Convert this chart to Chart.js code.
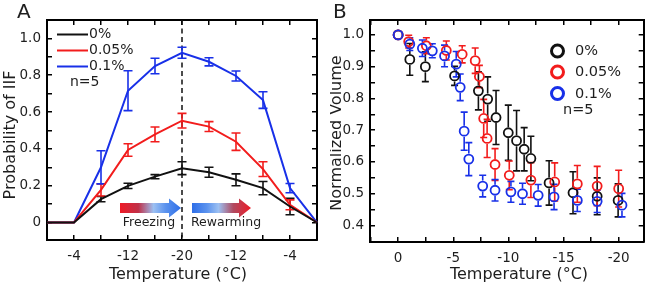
<!DOCTYPE html>
<html>
<head>
<meta charset="utf-8">
<script src="https://cdn.jsdelivr.net/npm/chart.js@4.4.1/dist/chart.umd.min.js"></script>
<style>
  html, body { margin: 0; padding: 0; background: #fff; }
  #wrap { position: relative; width: 650px; height: 285px; overflow: hidden; }
  canvas { position: absolute; top: 0; }
  #chartA { left: 0; }
  #chartB { left: 330px; }
</style>
</head>
<body>
<div id="wrap">
  <canvas id="chartA" width="330" height="285"></canvas>
  <canvas id="chartB" width="320" height="285"></canvas>
</div>
<script>
// ---- Panel A: probability of IIF along the freeze / rewarm cycle ----
const stagesA = ['0', '-4', '-8', '-12', '-16', '-20', '-16', '-12', '-8', '-4', '0'];
const labeledStagesA = [1, 3, 5, 7, 9];
const iif0 = [0, 0, 0.127, 0.199, 0.249, 0.295, 0.273, 0.232, 0.187, 0.087, 0];
const iif0Err = [0, 0, 0.014, 0.014, 0.011, 0.035, 0.027, 0.032, 0.036, 0.045, 0];
const iif005 = [0, 0, 0.177, 0.394, 0.479, 0.553, 0.521, 0.439, 0.29, 0.096, 0];
const iif005Err = [0, 0, 0.033, 0.034, 0.04, 0.04, 0.027, 0.047, 0.04, 0.027, 0];
const iif01 = [0, 0, 0.30, 0.716, 0.85, 0.922, 0.873, 0.796, 0.665, 0.187, 0];
const iif01Err = [0, 0, 0.09, 0.108, 0.042, 0.03, 0.022, 0.027, 0.045, 0.025, 0];
const yTicksA = [0, 0.1, 0.2, 0.3, 0.4, 0.5, 0.6, 0.7, 0.8, 0.9, 1.0];
const yTickLabelsA = ['0', '', '0.2', '', '0.4', '', '0.6', '', '0.8', '', '1.0'];

// ---- Panel B: normalized volume vs temperature ----
const volTemp0 = [0, -1.06, -2.47, -5.12, -7.28, -8.12, -8.88, -9.99, -10.74, -11.43, -12.04, -13.69, -15.86, -18.05, -19.95];
const vol0 = [1.0, 0.923, 0.90, 0.871, 0.824, 0.798, 0.74, 0.692, 0.667, 0.64, 0.611, 0.534, 0.503, 0.492, 0.479];
const vol0Err = [0, 0.05, 0.047, 0.03, 0.06, 0.07, 0.085, 0.087, 0.095, 0.068, 0.07, 0.07, 0.066, 0.058, 0.052];
const volTemp005 = [0, -0.96, -2.56, -4.37, -5.81, -6.99, -7.37, -7.76, -8.07, -8.79, -10.08, -12.04, -14.2, -16.25, -18.05, -20.0];
const vol005 = [1.0, 0.979, 0.966, 0.951, 0.939, 0.919, 0.869, 0.737, 0.674, 0.592, 0.558, 0.543, 0.537, 0.531, 0.524, 0.516];
const vol005Err = [0, 0.02, 0.025, 0.03, 0.027, 0.04, 0.035, 0.06, 0.06, 0.05, 0.045, 0.055, 0.06, 0.058, 0.062, 0.058];
const volTemp01 = [0, -1.06, -2.2, -3.1, -4.21, -5.27, -5.63, -5.99, -6.41, -7.67, -8.79, -10.23, -11.28, -12.7, -14.14, -16.25, -18.05, -20.3];
const vol01 = [1.0, 0.971, 0.958, 0.95, 0.934, 0.908, 0.835, 0.697, 0.609, 0.524, 0.511, 0.506, 0.50, 0.495, 0.49, 0.479, 0.476, 0.464];
const vol01Err = [0, 0.02, 0.026, 0.022, 0.034, 0.04, 0.042, 0.06, 0.052, 0.034, 0.034, 0.033, 0.033, 0.034, 0.04, 0.035, 0.035, 0.037];
const xTicksB = [2.5, 0, -2.5, -5, -7.5, -10, -12.5, -15, -17.5, -20];
const xTickLabelsB = ['', '0', '', '-5', '', '-10', '', '-15', '', '-20'];
const yTicksB = [0.4, 0.45, 0.5, 0.55, 0.6, 0.65, 0.7, 0.75, 0.8, 0.85, 0.9, 0.95, 1.0];
const yTickLabelsB = ['0.4', '', '0.5', '', '0.6', '', '0.7', '', '0.8', '', '0.9', '', '1.0'];

const seriesNames = ['0%', '0.05%', '0.1%'];
const BLACK = '#111111';
const RED = '#f21c1c';
const BLUE = '#1830e8';
const seriesColors = [BLACK, RED, BLUE];
const FONT = "'DejaVu Sans', Verdana, sans-serif";
const TEXT = '#1e1e1e';

// Axis frame: border on every side, short inward tick marks
const frameGrid = () => ({
    display: true,
    drawOnChartArea: false,
    drawTicks: true,
    tickLength: -5,
    color: '#000000',
    lineWidth: 1.5
});
const frameBorder = () => ({ display: true, color: '#000000', width: 2 });

// Vertical error bars, with an optional gap round each marker
function drawErrorBars(chart, errorSets, capHalf, gap) {
    const { ctx } = chart;
    const yScale = chart.scales.y;
    ctx.save();
    ctx.lineWidth = 1.6;
    errorSets.forEach((errs, di) => {
        const meta = chart.getDatasetMeta(di);
        const ds = chart.data.datasets[di];
        ctx.strokeStyle = ds.borderColor;
        meta.data.forEach((pt, i) => {
            const e = errs[i];
            if (!e) return;
            const raw = ds.data[i];
            const v = typeof raw === 'object' ? raw.y : raw;
            const top = yScale.getPixelForValue(v + e);
            const bot = yScale.getPixelForValue(v - e);
            ctx.beginPath();
            if (top < pt.y - gap) {
                ctx.moveTo(pt.x, top);
                ctx.lineTo(pt.x, pt.y - gap);
            }
            if (bot > pt.y + gap) {
                ctx.moveTo(pt.x, pt.y + gap);
                ctx.lineTo(pt.x, bot);
            }
            ctx.moveTo(pt.x - capHalf, top);
            ctx.lineTo(pt.x + capHalf, top);
            ctx.moveTo(pt.x - capHalf, bot);
            ctx.lineTo(pt.x + capHalf, bot);
            ctx.stroke();
        });
    });
    ctx.restore();
}

function drawArrow(ctx, x0, x1, yc, stops) {
    const bodyH = 5, headH = 9.5, headL = 12;
    const g = ctx.createLinearGradient(x0, 0, x1, 0);
    stops.forEach(([s, c]) => g.addColorStop(s, c));
    ctx.fillStyle = g;
    ctx.beginPath();
    ctx.moveTo(x0, yc - bodyH);
    ctx.lineTo(x1 - headL, yc - bodyH);
    ctx.lineTo(x1 - headL, yc - headH);
    ctx.lineTo(x1, yc);
    ctx.lineTo(x1 - headL, yc + headH);
    ctx.lineTo(x1 - headL, yc + bodyH);
    ctx.lineTo(x0, yc + bodyH);
    ctx.closePath();
    ctx.fill();
}

function rotatedText(ctx, text, x, y) {
    ctx.save();
    ctx.translate(x, y);
    ctx.rotate(-Math.PI / 2);
    ctx.textAlign = 'center';
    ctx.textBaseline = 'middle';
    ctx.fillText(text, 0, 0);
    ctx.restore();
}

// Panel A: dashed -20 line, error bars, arrows, legend, titles
const decorA = {
    id: 'decorA',
    beforeDatasetsDraw(chart) {
        const { ctx, chartArea: a, scales } = chart;
        const px = scales.x.getPixelForTick(5);
        ctx.save();
        ctx.strokeStyle = BLACK;
        ctx.lineWidth = 1.5;
        ctx.setLineDash([5, 3.5]);
        ctx.beginPath();
        ctx.moveTo(px, a.top);
        ctx.lineTo(px, a.bottom);
        ctx.stroke();
        ctx.restore();
        drawErrorBars(chart, [iif0Err, iif005Err, iif01Err], 4.5, 0);
    },
    afterDraw(chart) {
        const { ctx } = chart;
        ctx.save();
        drawArrow(ctx, 120, 181, 208, [[0, '#ee1a26'], [0.3, '#c03048'], [0.55, '#9cc0f2'], [0.75, '#5a92ee'], [1, '#2e6ee8']]);
        drawArrow(ctx, 192, 251, 208, [[0, '#2e6ee8'], [0.25, '#5a92ee'], [0.45, '#9cc0f2'], [0.7, '#b04a60'], [1, '#ee1a26']]);
        ctx.fillStyle = TEXT;
        ctx.font = `12.5px ${FONT}`;
        ctx.textAlign = 'center';
        ctx.textBaseline = 'middle';
        ctx.fillText('Freezing', 149, 223);
        ctx.fillText('Rewarming', 226, 223);

        // legend
        ctx.lineWidth = 2;
        ctx.font = `14px ${FONT}`;
        ctx.textAlign = 'left';
        [34.5, 50.5, 66.5].forEach((y, i) => {
            ctx.strokeStyle = seriesColors[i];
            ctx.beginPath();
            ctx.moveTo(57, y);
            ctx.lineTo(88, y);
            ctx.stroke();
            ctx.fillStyle = TEXT;
            ctx.fillText(seriesNames[i], 89, y);
        });
        ctx.fillText('n=5', 70, 82);

        ctx.font = `20px ${FONT}`;
        ctx.fillText('A', 17, 13);
        ctx.font = `16px ${FONT}`;
        ctx.textAlign = 'center';
        ctx.textBaseline = 'alphabetic';
        ctx.fillText('Temperature (\u00B0C)', 178, 279);
        rotatedText(ctx, 'Probability of IIF', 11, 135);
        ctx.restore();
    }
};

// Panel B: error bars, legend, titles
const decorB = {
    id: 'decorB',
    beforeDatasetsDraw(chart) {
        drawErrorBars(chart, [vol0Err, vol005Err, vol01Err], 3.5, 5.5);
    },
    afterDraw(chart) {
        const { ctx } = chart;
        ctx.save();
        ctx.font = `14.5px ${FONT}`;
        ctx.textBaseline = 'middle';
        ctx.textAlign = 'left';
        [51, 72, 93.5].forEach((y, i) => {
            ctx.strokeStyle = seriesColors[i];
            ctx.lineWidth = 3;
            ctx.beginPath();
            ctx.arc(227.5, y, 6, 0, Math.PI * 2);
            ctx.stroke();
            ctx.fillStyle = TEXT;
            ctx.fillText(seriesNames[i], 245, y + 0.5);
        });
        ctx.fillText('n=5', 233, 110);

        ctx.font = `20px ${FONT}`;
        ctx.fillText('B', 3, 13);
        ctx.font = `16px ${FONT}`;
        ctx.textAlign = 'center';
        ctx.textBaseline = 'alphabetic';
        ctx.fillText('Temperature (\u00B0C)', 189, 279);
        rotatedText(ctx, 'Normalized Volume', 7, 133);
        ctx.restore();
    }
};

function lineSet(label, values, color) {
    return {
        label,
        data: values,
        borderColor: color,
        borderWidth: 2,
        pointRadius: 0,
        tension: 0,
        fill: false
    };
}

new Chart(document.getElementById('chartA'), {
    type: 'line',
    data: {
        labels: stagesA,
        datasets: [
            lineSet('0%', iif0, BLACK),
            lineSet('0.05%', iif005, RED),
            lineSet('0.1%', iif01, BLUE)
        ]
    },
    options: {
        responsive: false,
        devicePixelRatio: 1,
        animation: false,
        layout: { padding: { top: 20, right: 7, left: 0, bottom: 0 } },
        plugins: { legend: { display: false }, tooltip: { enabled: false } },
        scales: {
            x: {
                type: 'category',
                position: 'bottom',
                offset: false,
                grid: frameGrid(),
                border: frameBorder(),
                ticks: {
                    autoSkip: false,
                    maxRotation: 0,
                    padding: 13,
                    color: TEXT,
                    font: { family: FONT, size: 13.5 },
                    callback: (v, i) => labeledStagesA.includes(i) ? stagesA[i] : ''
                },
                afterFit: s => { s.height = 45; }
            },
            x2: {
                type: 'category',
                position: 'top',
                offset: false,
                grid: frameGrid(),
                border: frameBorder(),
                ticks: { display: false },
                afterFit: s => { s.height = 0; }
            },
            y: {
                type: 'linear',
                position: 'left',
                min: -0.095,
                max: 1.1,
                grid: frameGrid(),
                border: frameBorder(),
                afterBuildTicks: s => { s.ticks = yTicksA.map(v => ({ value: v })); },
                ticks: {
                    autoSkip: false,
                    padding: 11,
                    color: TEXT,
                    font: { family: FONT, size: 13.5 },
                    callback: (v, i) => yTickLabelsA[i]
                },
                afterFit: s => { s.width = 47; }
            },
            y2: {
                type: 'linear',
                position: 'right',
                min: -0.095,
                max: 1.1,
                grid: frameGrid(),
                border: frameBorder(),
                afterBuildTicks: s => { s.ticks = yTicksA.map(v => ({ value: v })); },
                ticks: { display: false },
                afterFit: s => { s.width = 0; }
            }
        }
    },
    plugins: [decorA]
});

function pointSet(label, temps, values, color, order) {
    return {
        label,
        data: temps.map((t, i) => ({ x: t, y: values[i] })),
        borderColor: color,
        backgroundColor: 'rgba(0,0,0,0)',
        borderWidth: 1.8,
        pointRadius: 4.5,
        pointStyle: 'circle',
        showLine: false,
        order
    };
}

new Chart(document.getElementById('chartB'), {
    type: 'scatter',
    data: {
        datasets: [
            pointSet('0%', volTemp0, vol0, BLACK, 3),
            pointSet('0.05%', volTemp005, vol005, RED, 2),
            pointSet('0.1%', volTemp01, vol01, BLUE, 1)
        ]
    },
    options: {
        responsive: false,
        devicePixelRatio: 1,
        animation: false,
        layout: { padding: { top: 20, right: 5, left: 0, bottom: 0 } },
        plugins: { legend: { display: false }, tooltip: { enabled: false } },
        scales: {
            x: {
                type: 'linear',
                position: 'bottom',
                reverse: true,
                min: -22.27,
                max: 2.55,
                grid: frameGrid(),
                border: frameBorder(),
                afterBuildTicks: s => { s.ticks = xTicksB.map(v => ({ value: v })); },
                ticks: {
                    autoSkip: false,
                    maxRotation: 0,
                    padding: 13,
                    color: TEXT,
                    font: { family: FONT, size: 13.5 },
                    callback: (v, i) => xTickLabelsB[i]
                },
                afterFit: s => { s.height = 43; }
            },
            x2: {
                type: 'linear',
                position: 'top',
                reverse: true,
                min: -22.27,
                max: 2.55,
                grid: frameGrid(),
                border: frameBorder(),
                afterBuildTicks: s => { s.ticks = xTicksB.map(v => ({ value: v })); },
                ticks: { display: false },
                afterFit: s => { s.height = 0; }
            },
            y: {
                type: 'linear',
                position: 'left',
                min: 0.348,
                max: 1.047,
                grid: frameGrid(),
                border: frameBorder(),
                afterBuildTicks: s => { s.ticks = yTicksB.map(v => ({ value: v })); },
                ticks: {
                    autoSkip: false,
                    padding: 11,
                    color: TEXT,
                    font: { family: FONT, size: 13.5 },
                    callback: (v, i) => yTickLabelsB[i]
                },
                afterFit: s => { s.width = 40; }
            },
            y2: {
                type: 'linear',
                position: 'right',
                min: 0.348,
                max: 1.047,
                grid: frameGrid(),
                border: frameBorder(),
                afterBuildTicks: s => { s.ticks = yTicksB.map(v => ({ value: v })); },
                ticks: { display: false },
                afterFit: s => { s.width = 0; }
            }
        }
    },
    plugins: [decorB]
});
</script>
</body>
</html>
